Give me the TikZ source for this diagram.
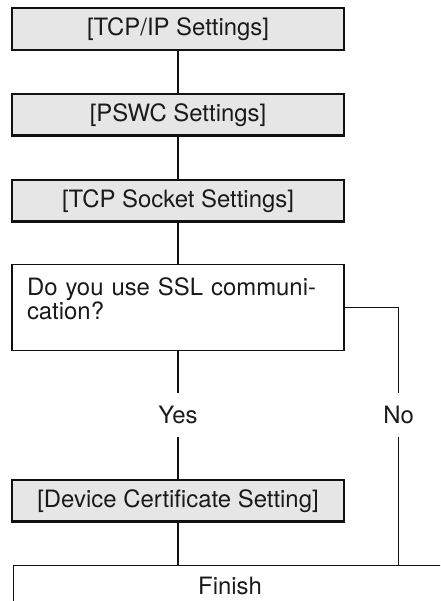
\documentclass[tikz,border=0pt]{standalone}
\usepackage{fontspec}
\setmainfont{TeX Gyre Heros}
\usetikzlibrary{positioning}
\definecolor{boxfill}{HTML}{E6E6E6}
\definecolor{boxstroke}{HTML}{111111}
\definecolor{txt}{HTML}{1A1A1A}

\begin{document}
\begin{tikzpicture}[
  font=\fontsize{13.6pt}{13.7pt}\selectfont,
  box/.style={
    draw=boxstroke,
    line width=1.4pt,
    fill=boxfill,
    minimum width=6.63cm,
    minimum height=0.83cm,
    inner sep=0pt,
    text=txt
  },
  query/.style={
    draw=boxstroke,
    line width=0.6pt,
    text width=6.04cm,
    align=left,
    inner xsep=0.3cm,
    inner ysep=0.28cm,
    text height=0.34cm,
    text depth=0.82cm,
    text=txt,
    execute at begin node={\fontsize{13.6pt}{13.7pt}\selectfont}
  },
  endbox/.style={
    draw=boxstroke,
    line width=0.6pt,
    minimum width=8.66cm,
    minimum height=0.84cm,
    inner sep=0pt,
    text=txt
  },
  answer/.style={minimum height=0.86cm, inner sep=0pt, text=txt},
  link/.style={draw=boxstroke, line width=0.6pt}
]
  \useasboundingbox (0,0) rectangle (8.8,-12.02);
  \clip (0,0) rectangle (8.8,-12.02);

  % Setting steps
  \node[box] (tcpip) at (3.56,-0.58) {[TCP/IP Settings]};
  \node[box, below=0.84cm of tcpip] (pswc) {[PSWC Settings]};
  \node[box, below=0.84cm of pswc] (socket) {[TCP Socket Settings]};

  % Decision
  \node[query, below=0.82cm of socket] (ssl) {Do you use SSL communi-\\cation?};
  \node[box, below=2.56cm of ssl] (cert) {[Device Certificate Setting]};
  \node[endbox, below=0.84cm of cert.south west, anchor=north west, xshift=0.04cm] (finish) {Finish};

  % Main flow
  \draw[link] (tcpip) -- (pswc);
  \draw[link] (pswc) -- (socket);
  \draw[link] (socket) -- (ssl);
  \path (ssl) -- (cert) node[midway, answer] (yes) {Yes};
  \draw[link] (ssl) -- (yes);
  \draw[link] (yes) -- (cert);
  \draw[link] (cert) -- (cert |- finish.north);

  % No branch
  \coordinate[right=1.08cm of ssl.east] (nobend);
  \node[answer] (no) at (nobend |- yes) {No};
  \draw[link] (ssl.east) -- (nobend) -- (no);
  \draw[link] (no) -- (no |- finish.north);
\end{tikzpicture}
\end{document}
